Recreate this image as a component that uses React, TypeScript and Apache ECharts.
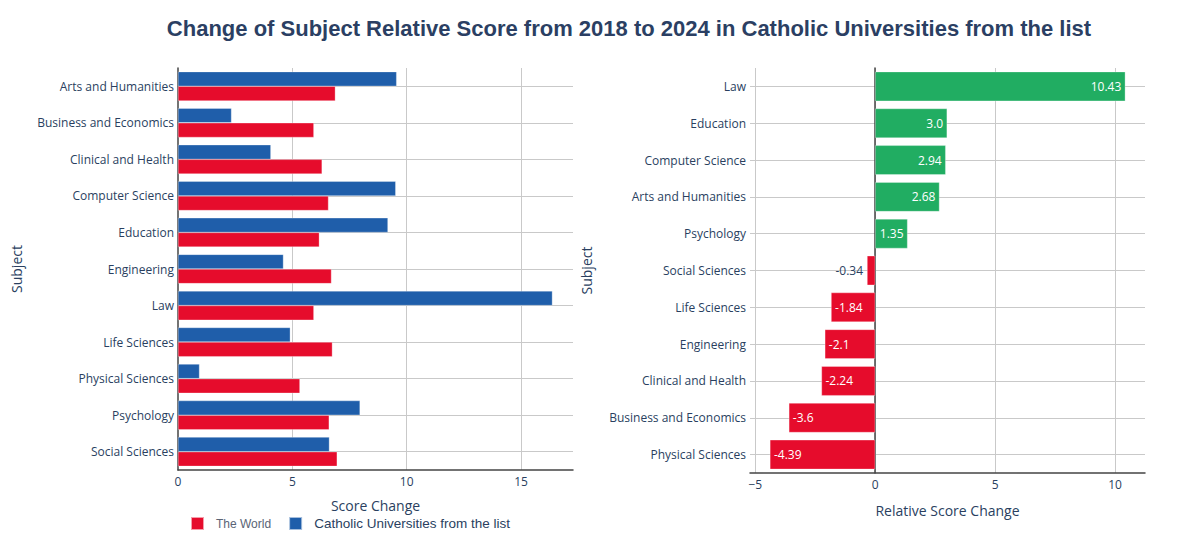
import React, { useEffect, useRef } from "react";
import * as echarts from "echarts";

const categories = [
  "Arts and Humanities",
  "Business and Economics",
  "Clinical and Health",
  "Computer Science",
  "Education",
  "Engineering",
  "Law",
  "Life Sciences",
  "Physical Sciences",
  "Psychology",
  "Social Sciences",
];
const worldScores = [6.88, 5.94, 6.3, 6.58, 6.18, 6.71, 5.94, 6.75, 5.33, 6.61, 6.96];
const catholicScores = [9.56, 2.34, 4.06, 9.52, 9.18, 4.61, 16.37, 4.91, 0.94, 7.96, 6.62];

const relCategories = [
  "Law",
  "Education",
  "Computer Science",
  "Arts and Humanities",
  "Psychology",
  "Social Sciences",
  "Life Sciences",
  "Engineering",
  "Clinical and Health",
  "Business and Economics",
  "Physical Sciences",
];
const relValues = [10.43, 3.0, 2.94, 2.68, 1.35, -0.34, -1.84, -2.1, -2.24, -3.6, -4.39];

const TITLE = "Change of Subject Relative Score from 2018 to 2024 in Catholic Universities from the list";
const WORLD = "The World";
const CATHOLIC = "Catholic Universities from the list";

const RED = "#e60c2c";
const BLUE = "#1f5eaa";
const GREEN = "#21ad62";
const TXT = "#2a3f5f";
const GRID = "#c9c9c9";
const AXIS = "#444444";
const FONT = "'Open Sans', 'Noto Sans', sans-serif";

function fmtLabel(v: number): string {
  const s = Number.isInteger(v) ? v.toFixed(1) : String(v);
  return s;
}

export default function App() {
  const ref = useRef<HTMLDivElement>(null);
  useEffect(() => {
    document.body.style.margin = "0";
    if (!ref.current) return;
    const chart = echarts.init(ref.current, null, { renderer: "svg" });

    const relData = relValues.map((v) => {
      const small = Math.abs(v) < 1;
      return {
        value: v,
        itemStyle: { color: v >= 0 ? GREEN : RED },
        label: small
          ? { show: true, position: "left", color: TXT, distance: 4 }
          : { show: true, position: v >= 0 ? "insideRight" : "insideLeft", color: "#ffffff", distance: 4 },
      };
    });

    const option: any = {
      animation: false,
      backgroundColor: "#ffffff",
      textStyle: { fontFamily: FONT },
      graphic: [
        {
          type: "text",
          x: 629,
          y: 28,
          style: {
            text: TITLE,
            align: "center",
            verticalAlign: "middle",
            font: "bold 22px 'Liberation Sans', Arial, sans-serif",
            fill: "#2b3f63",
          },
        },
      ],
      legend: {
        data: [WORLD, CATHOLIC],
        left: 185,
        top: 511,
        icon: "rect",
        itemWidth: 13,
        itemHeight: 13,
        itemGap: 17,
        formatter: (name: string) => (name === WORLD ? `{a|${name}}` : `{b|${name}}`),
        textStyle: {
          rich: {
            a: { fontSize: 12, color: "#5a6475", fontFamily: "'Liberation Sans', Arial, sans-serif", padding: [0, 0, 0, 7] },
            b: { fontSize: 13.5, color: TXT, fontFamily: "'Liberation Sans', Arial, sans-serif", padding: [0, 0, 0, 7] },
          },
        },
      },
      grid: [
        { left: 178, top: 68, width: 395, height: 402, containLabel: false },
        { left: 750, top: 68, width: 395, height: 405, containLabel: false },
      ],
      xAxis: [
        {
          type: "value",
          gridIndex: 0,
          min: 0,
          max: 17.27,
          interval: 5,
          name: "Score Change",
          nameLocation: "middle",
          nameGap: 28,
          nameTextStyle: { color: TXT, fontSize: 14, fontFamily: FONT },
          axisLine: { show: true, lineStyle: { color: AXIS, width: 1.5 } },
          axisTick: { show: false },
          axisLabel: { color: TXT, fontSize: 12, fontFamily: FONT, margin: 5, showMaxLabel: false },
          splitLine: { show: true, showMinLine: false, showMaxLine: false, lineStyle: { color: GRID, width: 1 } },
        },
        {
          type: "value",
          gridIndex: 1,
          min: -5.22,
          max: 11.25,
          splitNumber: 4,
          name: "Relative Score Change",
          nameLocation: "middle",
          nameGap: 30,
          nameTextStyle: { color: TXT, fontSize: 14, fontFamily: FONT },
          axisLine: { show: true, onZero: false, lineStyle: { color: AXIS, width: 1.5 } },
          axisTick: { show: false },
          axisLabel: {
            color: TXT,
            fontSize: 12,
            fontFamily: FONT,
            margin: 5,
            showMinLabel: false,
            showMaxLabel: false,
            formatter: (v: number) => (v < 0 ? "\u2212" + Math.abs(v) : String(v)),
          },
          splitLine: { show: true, showMinLine: false, showMaxLine: false, lineStyle: { color: GRID, width: 1 } },
        },
      ],
      yAxis: [
        {
          type: "category",
          gridIndex: 0,
          data: categories,
          inverse: true,
          name: "Subject",
          nameLocation: "middle",
          nameGap: 155,
          nameRotate: 90,
          nameTextStyle: { color: TXT, fontSize: 14, fontFamily: FONT },
          axisLine: { show: true, lineStyle: { color: AXIS, width: 1.5 } },
          axisTick: { show: false },
          axisLabel: { color: TXT, fontSize: 12, fontFamily: FONT, margin: 4 },
          splitLine: { show: true, alignWithLabel: true, lineStyle: { color: GRID, width: 1 } },
        },
        {
          type: "category",
          gridIndex: 1,
          data: relCategories,
          inverse: true,
          name: "Subject",
          nameLocation: "middle",
          nameGap: 157,
          nameRotate: 90,
          nameTextStyle: { color: TXT, fontSize: 14, fontFamily: FONT },
          axisLine: { show: true, lineStyle: { color: AXIS, width: 1.5 } },
          axisTick: { show: false },
          axisLabel: { color: TXT, fontSize: 12, fontFamily: FONT, margin: 4 },
          splitLine: { show: true, alignWithLabel: true, lineStyle: { color: GRID, width: 1 } },
        },
      ],
      series: [
        {
          name: CATHOLIC,
          type: "bar",
          xAxisIndex: 0,
          yAxisIndex: 0,
          data: catholicScores,
          barCategoryGap: "20%",
          barGap: "0%",
          itemStyle: { color: BLUE, borderColor: "rgba(255,255,255,0.6)", borderWidth: 0.5 },
        },
        {
          name: WORLD,
          type: "bar",
          xAxisIndex: 0,
          yAxisIndex: 0,
          data: worldScores,
          barCategoryGap: "20%",
          barGap: "0%",
          itemStyle: { color: RED, borderColor: "rgba(255,255,255,0.6)", borderWidth: 0.5 },
        },
        {
          name: "Relative Score Change",
          type: "bar",
          xAxisIndex: 1,
          yAxisIndex: 1,
          data: relData,
          barCategoryGap: "20%",
          itemStyle: { borderColor: "rgba(255,255,255,0.6)", borderWidth: 0.5 },
          label: {
            show: true,
            fontSize: 12,
            fontFamily: FONT,
            formatter: (p: any) => fmtLabel(p.value),
          },
        },
      ],
    };

    chart.setOption(option);
    return () => chart.dispose();
  }, []);

  return <div ref={ref} style={{ width: 1203, height: 542 }} />;
}
